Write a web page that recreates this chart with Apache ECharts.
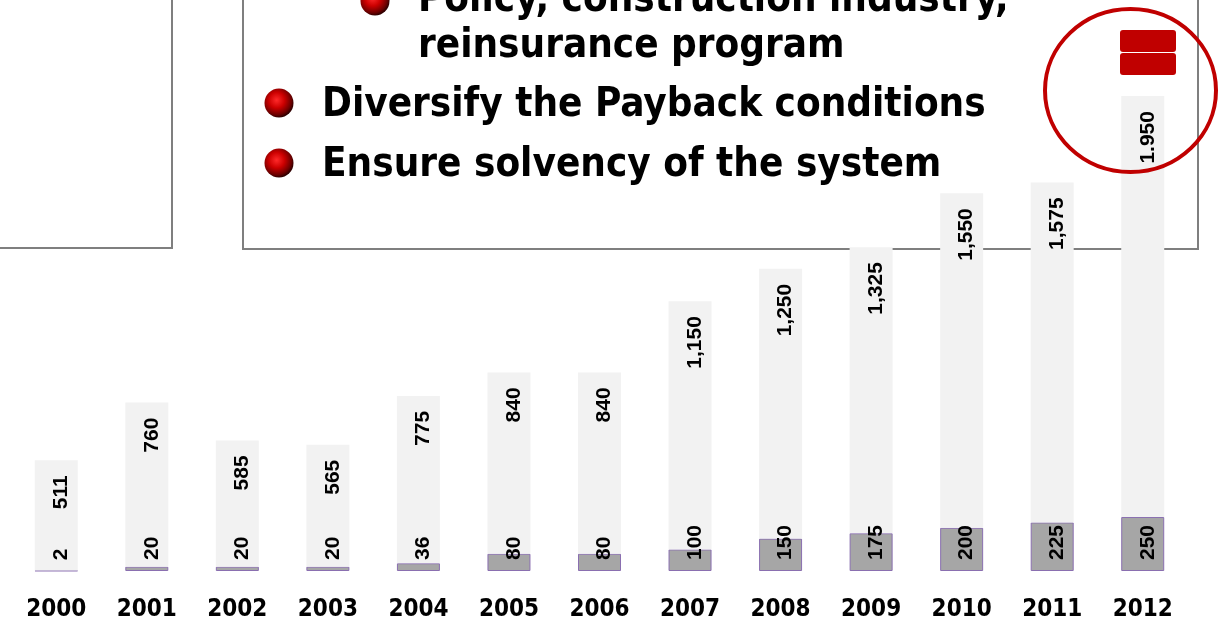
<!DOCTYPE html>
<html>
<head>
<meta charset="utf-8">
<style>
html,body{margin:0;padding:0;background:#fff;}
#c{width:1219px;height:619px;}
</style>
<script src="https://cdn.jsdelivr.net/npm/echarts@6/dist/echarts.min.js"></script>
</head>
<body>
<div id="c"></div>
<script>
var years = ['2000','2001','2002','2003','2004','2005','2006','2007','2008','2009','2010','2011','2012'];
var baseValues = [2,20,20,20,36,80,80,100,150,175,200,225,250];
var topValues = [511,760,585,565,775,840,840,1150,1250,1325,1550,1575,1950];
var topLabels = ['511','760','585','565','775','840','840','1,150','1,250','1,325','1,550','1,575','1.950'];
var bulletLines = [
  {text:'Policy, construction industry,', level:2},
  {text:'reinsurance program', level:2},
  {text:'Diversify the Payback conditions', level:1},
  {text:'Ensure solvency of the system', level:1}
];

var chart = echarts.init(document.getElementById('c'), null, {renderer:'canvas'});
var labelFont = "'Liberation Sans',Arial,sans-serif";
var slideFont = "'DejaVu Sans Condensed','DejaVu Sans',Verdana,sans-serif";

function sphere(cx, cy, r){
  return {
    type:'circle', z:5,
    shape:{cx:cx, cy:cy, r:r},
    style:{
      fill:{type:'radial', x:0.42, y:0.4, r:0.6,
        colorStops:[{offset:0,color:'#ff2a2a'},{offset:0.45,color:'#cc0000'},{offset:0.85,color:'#6a0000'},{offset:1,color:'#300000'}]}
    }
  };
}
var textPos = [[418,1],[418,47],[322,106],[322,166]];
var graphics = [
  {type:'polyline', z:0, shape:{points:[[172,-5],[172,248],[-5,248]]}, style:{stroke:'#7f7f7f', lineWidth:2, fill:null}},
  {type:'polyline', z:0, shape:{points:[[243,-5],[243,249],[1198,249],[1198,-5]]}, style:{stroke:'#7f7f7f', lineWidth:2, fill:null}},
  sphere(375,1,14.5), sphere(279,103,14.5), sphere(279,163,14.5),
  {type:'ellipse', z:100, shape:{cx:1130.5, cy:90.5, rx:85.5, ry:81.5}, style:{stroke:'#c00000', lineWidth:4, fill:null}},
  {type:'rect', z:100, shape:{x:1120, y:30, width:56, height:22, r:3}, style:{fill:'#c00000'}},
  {type:'rect', z:100, shape:{x:1120, y:53, width:56, height:22, r:3}, style:{fill:'#c00000'}}
];
bulletLines.forEach(function(l, i){
  graphics.push({type:'text', z:5, x:textPos[i][0], y:textPos[i][1],
    style:{text:l.text, fill:'#000', font:'bold 40px ' + slideFont, verticalAlign:'middle'}});
});

chart.setOption({
  backgroundColor:'#fff',
  animation:false,
  grid:{left:11, right:31, top:0, bottom:48, containLabel:false, outerBoundsMode:'none'},
  xAxis:{type:'category', data:years,
    axisLine:{show:false}, axisTick:{show:false},
    axisLabel:{color:'#000', fontWeight:'bold', fontSize:24, fontFamily:slideFont, margin:27}},
  yAxis:{type:'value', min:0, max:2645, show:false, splitLine:{show:false}},
  graphic:{elements:graphics},
  series:[
    {type:'bar', name:'base', stack:'a', data:baseValues, barWidth:43,
     itemStyle:{color:'#a6a6a6', borderColor:'#8a6fb0', borderWidth:1},
     label:{show:true, position:'insideBottom', rotate:90, align:'left', verticalAlign:'middle', distance:11,
       offset:[0,5], color:'#000', fontWeight:'bold', fontSize:21, fontFamily:labelFont}},
    {type:'bar', name:'top', stack:'a', data:topValues, barWidth:43,
     itemStyle:{color:'#f2f2f2'},
     label:{show:true, position:'insideTop', rotate:90, align:'right', verticalAlign:'middle', distance:15,
       offset:[0,5], color:'#000', fontWeight:'bold', fontSize:21, fontFamily:labelFont,
       formatter:function(p){return topLabels[p.dataIndex];}}}
  ]
});
</script>
</body>
</html>
